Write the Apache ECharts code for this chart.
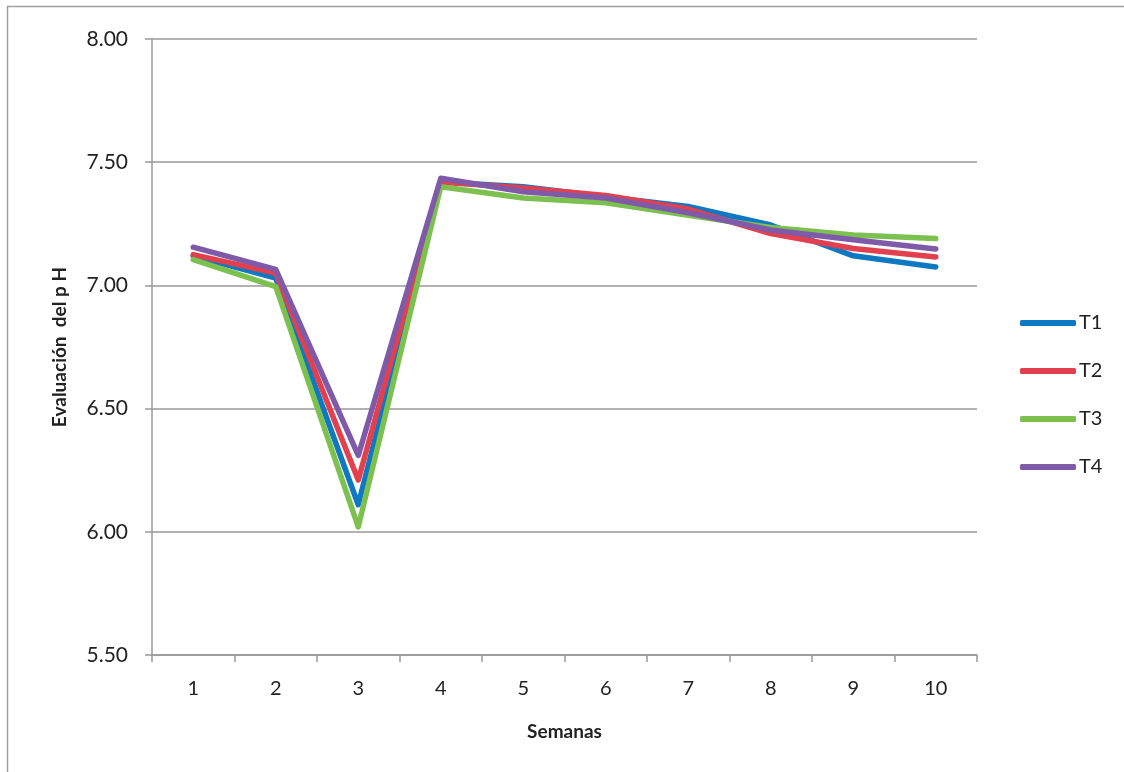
<!DOCTYPE html>
<html><head><meta charset="utf-8">
<script src="https://cdn.jsdelivr.net/npm/echarts@6/dist/echarts.min.js"></script>
<style>html,body{margin:0;padding:0;background:#fff}#c{width:1124px;height:772px}</style>
</head><body><div id="c"></div>
<script>
const categories = ['1','2','3','4','5','6','7','8','9','10'];
const T1 = [7.12, 7.03, 6.11, 7.42, 7.40, 7.36, 7.32, 7.245, 7.12, 7.075];
const T2 = [7.125, 7.05, 6.21, 7.42, 7.395, 7.365, 7.31, 7.21, 7.15, 7.115];
const T3 = [7.105, 6.995, 6.02, 7.40, 7.355, 7.335, 7.285, 7.235, 7.205, 7.19];
const T4 = [7.155, 7.065, 6.31, 7.435, 7.38, 7.355, 7.295, 7.225, 7.185, 7.148];
const seriesNames = ['T1','T2','T3','T4'];
const seriesData = [T1, T2, T3, T4];
const colors = ['#0F78C2', '#E2404E', '#7CC150', '#7F5AA8'];

const chart = echarts.init(document.getElementById('c'), null, {renderer:'canvas'});
const font = 'Lato, "Open Sans", sans-serif';
chart.setOption({
  animation: false,
  backgroundColor: '#fff',
  color: colors,
  graphic: [{type:'rect', shape:{x:7.5, y:6.5, width:1130, height:790}, style:{fill:'none', stroke:'#A0A0A0', lineWidth:1.5}, silent:true}],
  grid: {left:152, right:147, top:39, bottom:117, containLabel:false},
  legend: {
    orient:'vertical', left:1015, top:308, itemGap:28, itemWidth:56, itemHeight:6,
    icon:'roundRect',
    textStyle:{fontFamily:font, fontSize:20, color:'#222', padding:[0,0,0,-2]},
    data: seriesNames
  },
  xAxis: {
    type:'category', data:categories, boundaryGap:true,
    name:'Semanas', nameLocation:'middle', nameGap:67,
    nameTextStyle:{fontFamily:font, fontSize:19, fontWeight:'bold', color:'#222'},
    axisLine:{lineStyle:{color:'#999', width:1.5}},
    axisTick:{show:true, length:7, lineStyle:{color:'#999', width:1.5}},
    axisLabel:{fontFamily:font, fontSize:20, color:'#222', margin:24}
  },
  yAxis: {
    type:'value', min:5.5, max:8, interval:0.5,
    name:'Evaluación  del p H', nameLocation:'middle', nameGap:83,
    nameTextStyle:{fontFamily:font, fontSize:19, fontWeight:'bold', color:'#222'},
    axisLine:{show:true, lineStyle:{color:'#999', width:1.5}},
    axisTick:{show:true, length:7, lineStyle:{color:'#999', width:1.5}},
    axisLabel:{fontFamily:font, fontSize:21, color:'#222', margin:24, formatter:v=>v.toFixed(2)},
    splitLine:{show:true, lineStyle:{color:'#999', width:1.5}}
  },
  series: seriesNames.map((n,i)=>({
    name:n, type:'line', data:seriesData[i], symbol:'none', smooth:false,
    lineStyle:{width:5.5, color:colors[i], cap:'round', join:'round'}
  }))
});
</script></body></html>
